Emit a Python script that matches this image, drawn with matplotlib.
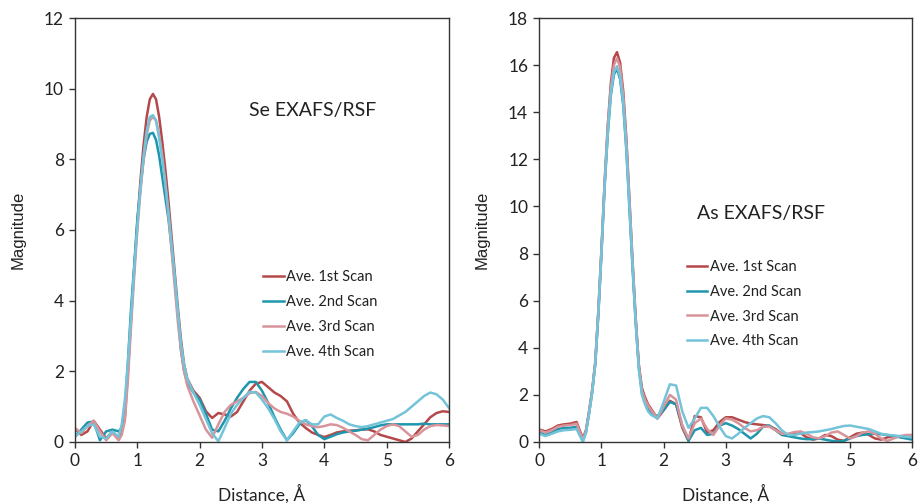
import numpy as np
import matplotlib
matplotlib.use('Agg')
import matplotlib.pyplot as plt

# shared distance grid (finer around the main peak)
r = [0.0, 0.1, 0.2, 0.3, 0.4, 0.5, 0.6, 0.7,
     0.75, 0.8, 0.85, 0.9, 0.95, 1.0, 1.05, 1.1, 1.15, 1.2, 1.25, 1.3, 1.35,
     1.4, 1.45, 1.5, 1.55, 1.6, 1.65, 1.7, 1.75, 1.8,
     1.9, 2.0, 2.1, 2.2, 2.3, 2.4, 2.5, 2.6, 2.7, 2.8, 2.9, 3.0,
     3.1, 3.2, 3.3, 3.4, 3.5, 3.6, 3.7, 3.8, 3.9, 4.0,
     4.1, 4.2, 4.3, 4.4, 4.5, 4.6, 4.7, 4.8, 4.9, 5.0,
     5.1, 5.2, 5.3, 5.4, 5.5, 5.6, 5.7, 5.8, 5.9, 6.0]

# Se EXAFS/RSF
se_1st = [0.38, 0.2, 0.3, 0.6, 0.35, 0.1, 0.3, 0.1,
          0.3, 0.7, 2.0, 3.5, 4.9, 6.2, 7.4, 8.4, 9.2, 9.7, 9.85, 9.7, 9.2,
          8.5, 7.7, 6.8, 5.8, 4.8, 3.8, 2.9, 2.2, 1.8,
          1.45, 1.25, 0.87, 0.68, 0.82, 0.78, 0.72, 0.85, 1.15, 1.45, 1.65, 1.7,
          1.55, 1.4, 1.3, 1.15, 0.8, 0.55, 0.4, 0.27, 0.2, 0.14,
          0.2, 0.27, 0.3, 0.32, 0.33, 0.35, 0.36, 0.3, 0.2, 0.15,
          0.1, 0.05, 0.0, 0.1, 0.3, 0.5, 0.7, 0.82, 0.87, 0.85]
se_2nd = [0.15, 0.35, 0.55, 0.58, 0.05, 0.3, 0.35, 0.3,
          0.4, 0.85, 2.3, 3.8, 5.0, 6.3, 7.2, 8.0, 8.5, 8.72, 8.75, 8.55, 8.1,
          7.5, 6.9, 6.3, 5.5, 4.6, 3.6, 2.6, 2.0, 1.7,
          1.4, 1.2, 0.8, 0.35, 0.3, 0.6, 0.95, 1.25, 1.5, 1.7, 1.7, 1.45,
          1.1, 0.7, 0.35, 0.05, 0.25, 0.5, 0.62, 0.45, 0.2, 0.08,
          0.15, 0.22, 0.27, 0.3, 0.32, 0.35, 0.38, 0.42, 0.47, 0.5,
          0.5, 0.5, 0.5, 0.5, 0.5, 0.52, 0.5, 0.5, 0.5, 0.5]
se_3rd = [0.4, 0.25, 0.45, 0.6, 0.3, 0.05, 0.25, 0.05,
          0.2, 0.6, 1.8, 3.3, 4.7, 6.0, 7.1, 8.0, 8.7, 9.1, 9.2, 9.1, 8.7,
          8.1, 7.3, 6.4, 5.4, 4.4, 3.4, 2.6, 2.0, 1.6,
          1.15, 0.75, 0.35, 0.12, 0.5, 0.85, 1.05, 1.15, 1.25, 1.38, 1.42, 1.3,
          1.1, 0.95, 0.85, 0.8, 0.72, 0.6, 0.5, 0.45, 0.42, 0.45,
          0.5, 0.48, 0.4, 0.3, 0.2, 0.08, 0.05, 0.2, 0.35, 0.45,
          0.5, 0.45, 0.3, 0.15, 0.2, 0.35, 0.45, 0.48, 0.47, 0.45]
se_4th = [0.15, 0.3, 0.45, 0.5, 0.15, 0.1, 0.3, 0.15,
          0.5, 1.2, 2.3, 3.6, 4.9, 6.1, 7.2, 8.1, 8.8, 9.2, 9.25, 9.1, 8.6,
          8.0, 7.3, 6.5, 5.6, 4.7, 3.7, 2.8, 2.2, 1.8,
          1.4, 1.05, 0.65, 0.25, 0.02, 0.4, 0.8, 1.05, 1.25, 1.42, 1.4, 1.2,
          0.95, 0.65, 0.3, 0.05, 0.3, 0.55, 0.62, 0.5, 0.5, 0.72,
          0.78, 0.68, 0.6, 0.5, 0.45, 0.42, 0.45, 0.5, 0.55, 0.6,
          0.65, 0.75, 0.85, 1.0, 1.15, 1.3, 1.4, 1.35, 1.2, 0.96]

# As EXAFS/RSF
as_1st = [0.53, 0.45, 0.55, 0.7, 0.75, 0.78, 0.85, 0.15,
          0.5, 1.3, 2.2, 3.4, 5.6, 8.2, 11.0, 13.4, 15.2, 16.3, 16.55, 16.1, 14.9,
          12.9, 10.3, 7.7, 5.3, 3.3, 2.3, 1.9, 1.6, 1.4,
          1.0, 1.35, 1.75, 1.6, 0.6, 0.05, 1.1, 1.05, 0.4, 0.5, 0.85, 1.05,
          1.05, 0.95, 0.85, 0.78, 0.75, 0.72, 0.68, 0.55, 0.35, 0.28,
          0.35, 0.38, 0.2, 0.1, 0.15, 0.3, 0.25, 0.1, 0.05, 0.2,
          0.35, 0.4, 0.3, 0.15, 0.1, 0.2, 0.25, 0.22, 0.2, 0.25]
as_2nd = [0.4, 0.3, 0.4, 0.55, 0.6, 0.6, 0.65, 0.05,
          0.4, 1.2, 2.1, 3.3, 5.4, 8.0, 10.8, 13.0, 14.7, 15.6, 15.85, 15.4, 14.3,
          12.4, 9.9, 7.4, 5.1, 3.2, 2.1, 1.7, 1.4, 1.2,
          1.1, 1.35, 1.7, 1.6, 0.7, 0.05, 0.5, 0.6, 0.3, 0.35, 0.7, 0.8,
          0.7, 0.55, 0.35, 0.15, 0.35, 0.65, 0.7, 0.5, 0.3, 0.25,
          0.2, 0.15, 0.12, 0.12, 0.15, 0.1, 0.05, 0.02, 0.05, 0.15,
          0.25, 0.3, 0.33, 0.35, 0.33, 0.3, 0.25, 0.2, 0.15, 0.1]
as_3rd = [0.5, 0.4, 0.5, 0.65, 0.7, 0.72, 0.78, 0.1,
          0.45, 1.25, 2.15, 3.35, 5.5, 8.1, 10.9, 13.3, 15.0, 16.0, 16.3, 15.9, 14.7,
          12.7, 10.2, 7.6, 5.2, 3.3, 2.2, 1.8, 1.55, 1.35,
          1.0, 1.5, 2.0, 1.8, 0.7, 0.15, 0.8, 1.0, 0.55, 0.3, 0.7, 1.0,
          0.95, 0.8, 0.6, 0.45, 0.5, 0.65, 0.65, 0.5, 0.35, 0.35,
          0.42, 0.45, 0.35, 0.2, 0.15, 0.25, 0.4, 0.45, 0.3, 0.15,
          0.25, 0.4, 0.45, 0.35, 0.15, 0.05, 0.15, 0.25, 0.3, 0.3]
as_4th = [0.35, 0.25, 0.35, 0.45, 0.5, 0.52, 0.55, 0.0,
          0.4, 1.2, 2.1, 3.3, 5.5, 8.1, 10.9, 13.1, 14.8, 15.7, 15.95, 15.5, 14.4,
          12.5, 10.0, 7.5, 5.1, 3.1, 2.0, 1.6, 1.3, 1.15,
          1.0, 1.7, 2.45, 2.4, 1.3, 0.6, 1.0, 1.45, 1.45, 1.1, 0.65, 0.25,
          0.15, 0.35, 0.6, 0.8, 1.0, 1.1, 1.05, 0.8, 0.5, 0.3,
          0.3, 0.35, 0.4, 0.42, 0.45, 0.5, 0.55, 0.62, 0.68, 0.7,
          0.65, 0.6, 0.55, 0.45, 0.35, 0.3, 0.28, 0.25, 0.22, 0.2]

labels = ['Ave. 1st Scan', 'Ave. 2nd Scan', 'Ave. 3rd Scan', 'Ave. 4th Scan']
colors = ['#B5484A', '#1E96AC', '#D8949A', '#74C3D9']

tick_font = 'Lato'

fig = plt.figure(figsize=(9.2, 5.03), dpi=100)
ax1 = fig.add_axes([75 / 920, 61 / 503, 374 / 920, 424 / 503])
ax2 = fig.add_axes([539.3 / 920, 61 / 503, 373 / 920, 424 / 503])

panels = [
    (ax1, [se_1st, se_2nd, se_3rd, se_4th], 12, 'Se EXAFS/RSF', (0.465, 0.782), (0.503, 0.405)),
    (ax2, [as_1st, as_2nd, as_3rd, as_4th], 18, 'As EXAFS/RSF', (0.423, 0.54), (0.396, 0.43)),
]

for ax, series, ymax, title, tpos, lpos in panels:
    for y, c, lab in zip(series, colors, labels):
        ax.plot(r, y, color=c, linewidth=1.8, label=lab, solid_joinstyle='round')
    ax.set_xlim(0, 6)
    ax.set_ylim(0, ymax)
    ax.set_xticks(range(0, 7))
    ax.set_yticks(range(0, ymax + 1, 2))
    ax.tick_params(direction='out', length=4, width=1, color='#333333',
                   labelsize=12.5, labelcolor='#222222', pad=4)
    for lbl in ax.get_xticklabels() + ax.get_yticklabels():
        lbl.set_fontfamily(tick_font)
    for sp in ax.spines.values():
        sp.set_color('#333333')
        sp.set_linewidth(1.0)
    ax.set_xlabel('Distance, Å', fontsize=12.5, family=tick_font, color='#222222')
    ax.xaxis.set_label_coords(0.5, -0.100)
    ax.set_ylabel('Magnitude', fontsize=12, family='Liberation Sans', color='#222222')
    ax.yaxis.set_label_coords(-0.133, 0.5)
    ax.text(tpos[0], tpos[1], title, transform=ax.transAxes, fontsize=14,
            family=tick_font, color='#222222', ha='left', va='center')
    leg = ax.legend(loc='upper left', bbox_to_anchor=lpos, frameon=False,
                    borderpad=0, borderaxespad=0, handlelength=1.4,
                    handletextpad=0.15, labelspacing=0.75,
                    prop={'family': tick_font, 'size': 10.5})
    for t in leg.get_texts():
        t.set_color('#222222')

fig.savefig('out.png', dpi=100)
